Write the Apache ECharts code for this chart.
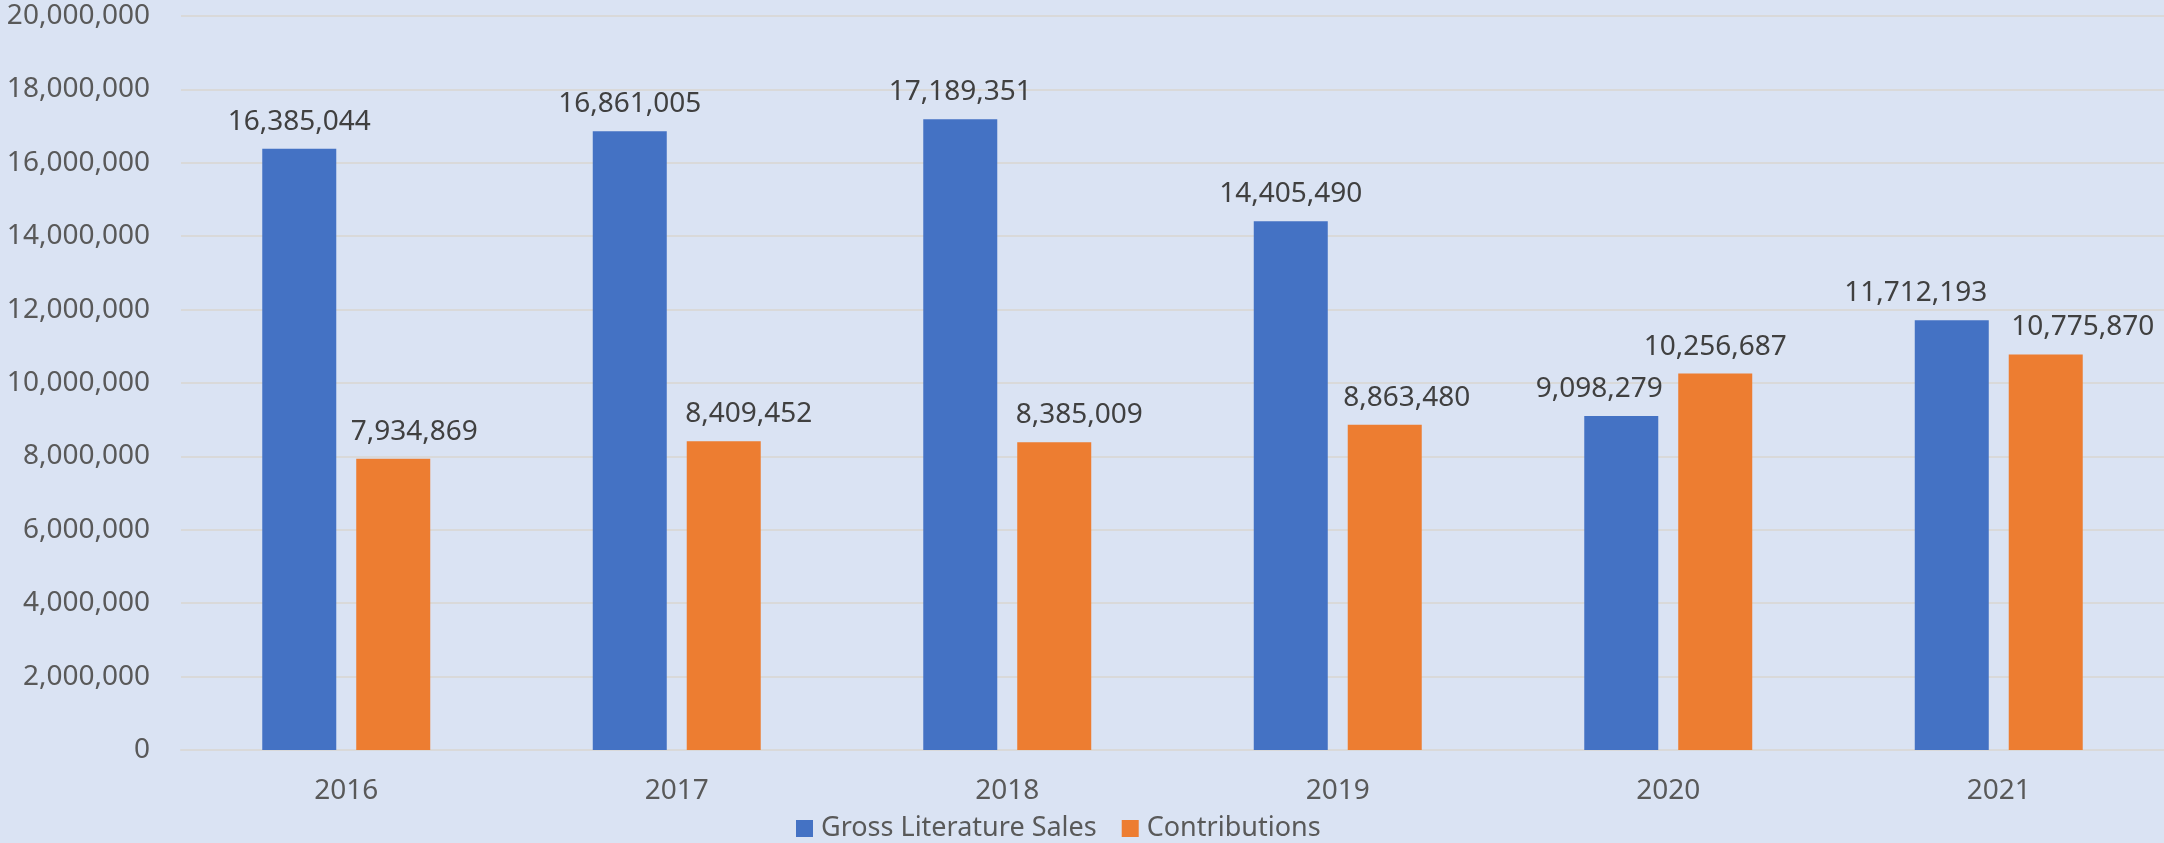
<!DOCTYPE html>
<html><head><meta charset="utf-8">
<script src="https://cdn.jsdelivr.net/npm/echarts@6/dist/echarts.min.js"></script>
<style>html,body{margin:0;padding:0;background:#dae3f3;}#c{width:2164px;height:843px;}</style>
</head><body><div id="c"></div>
<script>
const categories = ['2016', '2017', '2018', '2019', '2020', '2021'];
const grossSales = [16385044, 16861005, 17189351, 14405490, 9098279, 11712193];
const contributions = [7934869, 8409452, 8385009, 8863480, 10256687, 10775870];
const seriesNames = ['Gross Literature Sales', 'Contributions'];

// label horizontal nudges (style only, px)
const grossLabelShift = [0, 0, 0, 0, -22, -36];
const contribLabelShift = [21, 25, 25, 22, 0, 37];

const FONT = 'Noto Sans';
const fmt = v => Number(v).toLocaleString('en-US');
const chart = echarts.init(document.getElementById('c'));

function items(vals, shifts) {
  return vals.map((v, i) => ({ value: v, label: { offset: [shifts[i], 0] } }));
}

const labelStyle = { show: true, position: 'top', distance: 13, fontSize: 28, color: '#404040', formatter: p => fmt(p.value), fontFamily: FONT };

chart.setOption({
  backgroundColor: '#dae3f3',
  animation: false,
  textStyle: { fontFamily: FONT },
  grid: { left: 181, right: 0, top: 16, bottom: 93 },
  legend: {
    left: 791, top: 810, itemWidth: 17, itemHeight: 17, itemGap: 25,
    icon: 'rect',
    textStyle: { fontSize: 27, color: '#595959', fontFamily: FONT, padding: [0, 0, 0, 3] },
    data: seriesNames
  },
  xAxis: {
    type: 'category', data: categories,
    axisLine: { lineStyle: { color: '#d9d9d9', width: 2 } },
    axisTick: { show: false },
    axisLabel: { fontSize: 28, color: '#595959', margin: 27, fontFamily: FONT }
  },
  yAxis: {
    type: 'value', min: 0, max: 20000000, interval: 2000000,
    axisLine: { show: false }, axisTick: { show: false },
    axisLabel: { fontSize: 28, color: '#595959', margin: 31, formatter: fmt, fontFamily: FONT },
    splitLine: { lineStyle: { color: '#d9d9d9', width: 2 } }
  },
  series: [
    {
      name: seriesNames[0], type: 'bar', data: items(grossSales, grossLabelShift),
      barWidth: 74, barGap: '27%',
      itemStyle: { color: '#4472c4' },
      label: labelStyle
    },
    {
      name: seriesNames[1], type: 'bar', data: items(contributions, contribLabelShift),
      barWidth: 74,
      itemStyle: { color: '#ed7d31' },
      label: labelStyle
    }
  ]
});
</script></body></html>
